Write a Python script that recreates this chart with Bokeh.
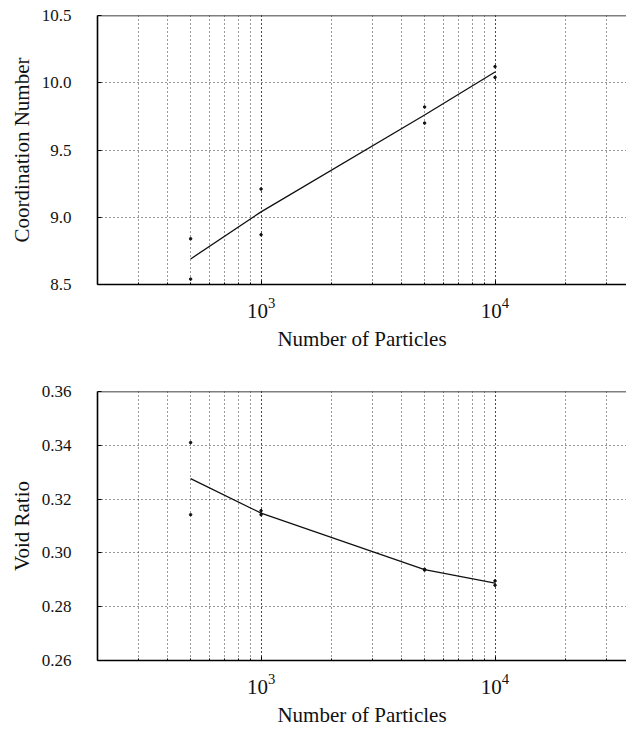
from bokeh.plotting import figure
from bokeh.layouts import column
from bokeh.models import (Range1d, SingleIntervalTicker, PrintfTickFormatter,
                          LogTicker, ColumnDataSource, Span)
from bokeh.embed import file_html
from bokeh.resources import INLINE

# ---- data ----
n_particles = [500, 1000, 5000, 10000]
coord_run_a = [8.84, 9.21, 9.82, 10.12]
coord_run_b = [8.54, 8.87, 9.70, 10.04]
coord_mean = [8.69, 9.04, 9.76, 10.08]
void_run_a = [0.341, 0.3157, 0.2939, 0.2896]
void_run_b = [0.3142, 0.3142, 0.2936, 0.2880]
void_mean = [0.3276, 0.3148, 0.2938, 0.2888]

x_label = "Number of Particles"
y_labels = ["Coordination Number", "Void Ratio"]
y_limits = [(8.5, 10.5), (0.26, 0.36)]
y_steps = [0.5, 0.02]
y_formats = ["%.1f", "%.2f"]

FONT = "Liberation Serif"


def make_panel(y_mean, y_a, y_b, idx, height, border_top, border_bottom):
    p = figure(width=626, height=height, x_axis_type="log",
               x_range=Range1d(200, 36460), y_range=Range1d(*y_limits[idx]),
               output_backend="svg", toolbar_location=None,
               min_border_left=97, min_border_right=0,
               min_border_top=border_top, min_border_bottom=border_bottom)
    p.outline_line_color = None
    p.background_fill_color = "white"
    p.border_fill_color = "white"

    # axes
    p.xaxis.ticker = LogTicker(num_minor_ticks=10)
    p.yaxis.ticker = SingleIntervalTicker(interval=y_steps[idx])
    p.yaxis.formatter = PrintfTickFormatter(format=y_formats[idx])
    for axes in (p.xaxis, p.yaxis):
        axes.axis_line_color = "black"
        axes.axis_line_width = 1.6
        axes.major_tick_in = 4
        axes.major_tick_out = 0
        axes.major_tick_line_color = "black"
        axes.minor_tick_in = 2
        axes.minor_tick_out = 0
        axes.minor_tick_line_color = "black"
        axes.major_label_text_font = FONT
        axes.axis_label_text_font = FONT
        axes.axis_label_text_font_style = "normal"
        axes.axis_label_text_font_size = "21px"
        axes.major_label_text_color = "#111111"
        axes.axis_label_text_color = "#111111"
    p.xaxis.major_label_text_font_size = "21px"
    p.yaxis.major_label_text_font_size = "17px"
    p.yaxis.minor_tick_line_color = None
    p.yaxis.major_label_standoff = 26
    p.yaxis.axis_label_standoff = 5
    p.xaxis.major_label_standoff = 13
    p.xaxis.axis_label_standoff = 6
    p.xaxis.axis_label = x_label
    p.yaxis.axis_label = y_labels[idx]

    # top border line
    p.add_layout(Span(location=y_limits[idx][1], dimension="width",
                      line_color="black", line_width=1.6))

    # grid
    for g in (p.xgrid[0], p.ygrid[0]):
        g.grid_line_color = "#333333"
        g.grid_line_dash = "1 3"
        g.grid_line_width = 1
    p.xgrid.minor_grid_line_color = "#333333"
    p.xgrid.minor_grid_line_dash = "1 3"
    p.xgrid.minor_grid_line_width = 1

    src = ColumnDataSource(dict(n=n_particles, m=y_mean, a=y_a, b=y_b))
    p.line("n", "m", source=src, line_color="#111111", line_width=1.3)
    p.scatter("n", "a", source=src, size=2.5, color="#111111")
    p.scatter("n", "b", source=src, size=2.5, color="#111111")
    return p


p1 = make_panel(coord_mean, coord_run_a, coord_run_b, 0, 355, 15, 71)
p2 = make_panel(void_mean, void_run_a, void_run_b, 1, 376, 36, 71)

layout = column(p1, p2, spacing=0)
open("out.html", "w").write(file_html(layout, INLINE))
